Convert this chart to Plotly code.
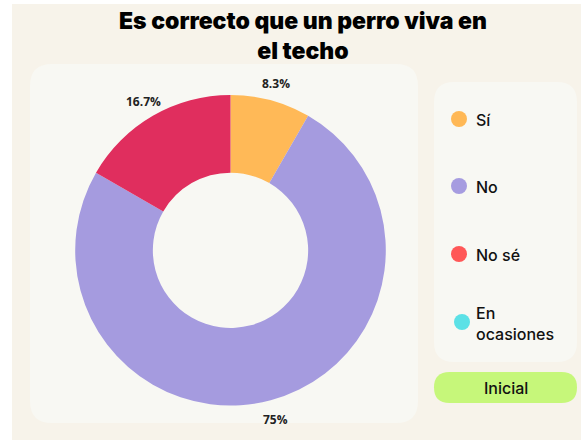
import math
import plotly.graph_objects as go

W, H = 581, 440

# ---- data ----
categories = ["Sí", "No", "No sé", "En ocasiones"]
values = [1, 9, 2, 0]
pct_labels = ["8.3%", "75%", "16.7%", ""]
slice_colors = ["#FFB957", "#A59BDF", "#E02E5E", "#5CE1E6"]
legend_colors = ["#FFB855", "#A69CE0", "#FF5757", "#5CE1E6"]
legend_texts = ["Sí", "No", "No sé", "En<br>ocasiones"]
title_text = "Es correcto que un perro viva en<br>el techo"
button_text = "Inicial"

BG = "#F7F3EA"
PANEL = "#F8F8F3"


def rrect(x0, y0, x1, y1, r):
    return (f"M{x0+r},{y0} L{x1-r},{y0} Q{x1},{y0} {x1},{y0+r} "
            f"L{x1},{y1-r} Q{x1},{y1} {x1-r},{y1} L{x0+r},{y1} "
            f"Q{x0},{y1} {x0},{y1-r} L{x0},{y0+r} Q{x0},{y0} {x0+r},{y0} Z")


fig = go.Figure()

# donut
cx, cy, R = 230.5, 250.3, 155.3
fig.add_trace(go.Pie(
    labels=categories, values=values,
    textinfo="none",
    hole=0.5, sort=False, direction="clockwise", rotation=0,
    marker=dict(colors=slice_colors, line=dict(width=0)),
    domain=dict(x=[(cx - R) / W, (cx + R) / W], y=[1 - (cy + R) / H, 1 - (cy - R) / H]),
    showlegend=False, hoverinfo="label+percent",
))

# legend markers (pixel-coordinate helper axis)
leg_x = [459, 459, 459, 462]
leg_y = [119, 186, 254, 322]
fig.add_trace(go.Scatter(
    x=leg_x, y=leg_y, mode="markers",
    marker=dict(size=16, color=legend_colors, line=dict(width=0)),
    showlegend=False, hoverinfo="skip",
))

shapes = [
    dict(type="rect", xref="x", yref="y", x0=12, y0=4, x1=W + 2, y1=H + 2,
         fillcolor=BG, line=dict(width=0), layer="below"),
    dict(type="path", xref="x", yref="y", path=rrect(30, 64, 418, 423, 22),
         fillcolor=PANEL, line=dict(width=0), layer="below"),
    dict(type="path", xref="x", yref="y", path=rrect(434, 82, 577, 362, 20),
         fillcolor=PANEL, line=dict(width=0), layer="below"),
    dict(type="path", xref="x", yref="y", path=rrect(434, 372, 577, 403, 15.5),
         fillcolor="#C6F77A", line=dict(width=0), layer="below"),
]

annotations = [
    dict(x=303, y=36, xref="x", yref="y", text=title_text, showarrow=False,
         font=dict(family="Inter", size=23, color="#000000", weight=900),
         align="center", xanchor="center", yanchor="middle"),
    dict(x=506, y=388, xref="x", yref="y", text=button_text, showarrow=False,
         font=dict(family="Inter", size=16, color="#111111", weight=500),
         xanchor="center", yanchor="middle"),
]

# percentage labels placed at slice mid-angles
total = sum(values)
cum = 0
label_r = R + 18.7
for v, lab in zip(values, pct_labels):
    mid = (cum + v / 2) / total * 2 * math.pi
    cum += v
    if not lab:
        continue
    annotations.append(dict(
        x=cx + label_r * math.sin(mid), y=cy - label_r * math.cos(mid) + 1.5,
        xref="x", yref="y", text=lab, showarrow=False,
        font=dict(family="Open Sans", size=12, color="#222222", weight="bold"),
        xanchor="center", yanchor="middle"))

for t, yy in zip(legend_texts, leg_y):
    annotations.append(dict(x=474, y=yy + 1, xref="x", yref="y",
                            text=t, showarrow=False,
                            font=dict(family="Inter", size=16, color="#111111", weight=500),
                            align="left", xanchor="left", yanchor="middle"))

fig.update_layout(
    width=W, height=H, margin=dict(l=0, r=0, t=0, b=0),
    paper_bgcolor="white", plot_bgcolor="rgba(0,0,0,0)",
    xaxis=dict(range=[0, W], visible=False, fixedrange=True),
    yaxis=dict(range=[H, 0], visible=False, fixedrange=True),
    shapes=shapes, annotations=annotations, showlegend=False,
)

fig.write_html("out.html", config={"displayModeBar": False},
               post_script="document.body.style.margin='0';")
